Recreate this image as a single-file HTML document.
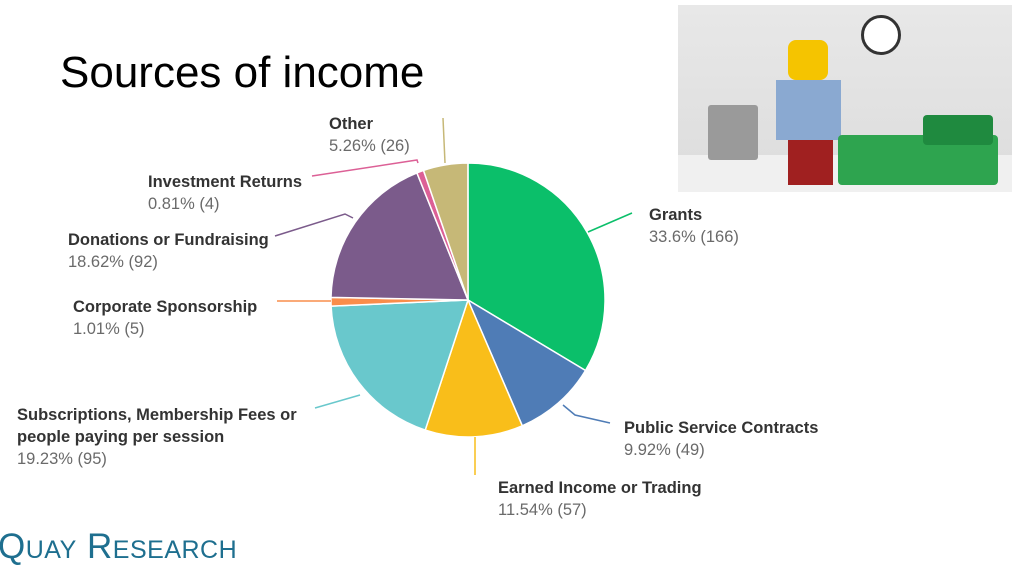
<!DOCTYPE html>
<html><head><meta charset="utf-8"><style>
body{margin:0;width:1024px;height:577px;background:#fff;overflow:hidden;font-family:"Liberation Sans",sans-serif;position:relative}
.t{position:absolute;font-size:16.5px;line-height:22px;color:#333}
.t b{font-weight:bold;color:#333}
.t span{color:#6a6a6a}
</style></head><body>
<div style="position:absolute;left:60px;top:48px;font-size:44px;color:#000">Sources of income</div>
<div style="position:absolute;left:678px;top:5px;width:334px;height:187px;background:linear-gradient(#e8e8e8,#dcdcdc);overflow:hidden">
 <div style="position:absolute;left:0;top:150px;width:334px;height:40px;background:#f0f0f0"></div>
 <div style="position:absolute;left:183px;top:10px;width:34px;height:34px;border-radius:50%;background:#fff;border:3px solid #333"></div>
 <div style="position:absolute;left:30px;top:100px;width:50px;height:55px;background:#9a9a9a;border-radius:3px"></div>
 <div style="position:absolute;left:110px;top:35px;width:40px;height:40px;background:#f5c400;border-radius:8px"></div>
 <div style="position:absolute;left:98px;top:75px;width:65px;height:60px;background:#8aa9d1"></div>
 <div style="position:absolute;left:110px;top:135px;width:45px;height:45px;background:#a02020"></div>
 <div style="position:absolute;left:160px;top:130px;width:160px;height:50px;background:#2ea44f;border-radius:4px"></div>
 <div style="position:absolute;left:245px;top:110px;width:70px;height:30px;background:#1f8a3f;border-radius:4px"></div>
</div>
<svg width="1024" height="577" style="position:absolute;left:0;top:0" id="s"></svg>
<div class="t" style="left:329px;top:113px"><b>Other</b><br><span>5.26% (26)</span></div>
<div class="t" style="left:148px;top:171px"><b>Investment Returns</b><br><span>0.81% (4)</span></div>
<div class="t" style="left:68px;top:229px"><b>Donations or Fundraising</b><br><span>18.62% (92)</span></div>
<div class="t" style="left:73px;top:296px"><b>Corporate Sponsorship</b><br><span>1.01% (5)</span></div>
<div class="t" style="left:17px;top:404px"><b>Subscriptions, Membership Fees or</b><br><b>people paying per session</b><br><span>19.23% (95)</span></div>
<div class="t" style="left:649px;top:204px"><b>Grants</b><br><span>33.6% (166)</span></div>
<div class="t" style="left:624px;top:417px"><b>Public Service Contracts</b><br><span>9.92% (49)</span></div>
<div class="t" style="left:498px;top:477px"><b>Earned Income or Trading</b><br><span>11.54% (57)</span></div>
<div style="position:absolute;left:-2px;top:527px;font-size:35px;color:#1e6f8f;letter-spacing:0.5px">Q<span style="font-size:25px">UAY</span> R<span style="font-size:25px">ESEARCH</span></div>
<script>
var d=[[33.6,"#0bbf6a"],[9.92,"#4f7cb6"],[11.54,"#f9be1a"],[19.23,"#69c8cc"],[1.01,"#f98d4b"],[18.62,"#7b5b8b"],[0.81,"#dc6096"],[5.26,"#c6b877"]];
var cx=468,cy=300,r=137,a=0,h="";
d.forEach(function(x){var a2=a+x[0]/100*2*Math.PI;
var p=function(t){return (cx+r*Math.sin(t)).toFixed(1)+","+(cy-r*Math.cos(t)).toFixed(1)};
h+='<path d="M'+cx+','+cy+' L'+p(a)+' A'+r+','+r+' 0 '+((a2-a)>Math.PI?1:0)+' 1 '+p(a2)+' Z" fill="'+x[1]+'" stroke="#fff" stroke-width="1.5"/>';a=a2;});
var L=[["#0bbf6a","588,232 632,213"],["#4f7cb6","563,405 575,415 610,423"],["#f9be1a","475,437 475,475"],["#69c8cc","360,395 315,408"],["#f98d4b","331,301 277,301"],["#7b5b8b","353,218 345,214 275,236"],["#dc6096","418,163 417,160 312,176"],["#c6b877","445,163 443,118"]];
L.forEach(function(l){h+='<polyline points="'+l[1]+'" fill="none" stroke="'+l[0]+'" stroke-width="1.5"/>'});
document.getElementById("s").innerHTML=h;
</script>
</body></html>
